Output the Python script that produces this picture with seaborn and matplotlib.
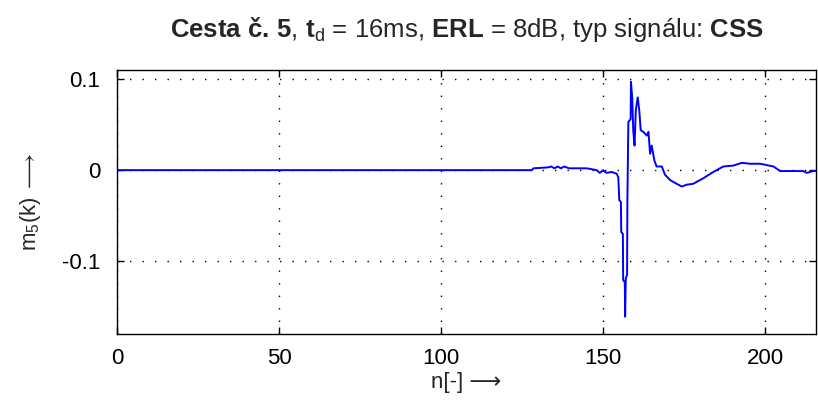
import matplotlib
matplotlib.use("Agg")
import matplotlib.pyplot as plt
import seaborn as sns
import pandas as pd

# ---- data ----
n_vals = [0, 128, 128.5, 133, 134, 135, 136, 137, 138, 139.5, 145, 148, 149, 150, 151,
          152.7, 154.2, 154.7, 155.0, 155.5, 155.6, 156.1, 156.2, 156.7, 156.8, 157.0,
          157.4, 157.5, 157.8, 158.5, 158.6, 159.0, 159.3, 159.7, 160.1, 160.7, 161.2,
          161.6, 162.4, 163.5, 164.0, 164.5, 165.0, 165.8, 166.5, 168.1, 169.1, 170.7,
          172.7, 174.3, 175.8, 177.8, 180.9, 184.0, 187.1, 190.2, 192.8, 195.4, 198.5,
          202.6, 204.6, 211.8, 212.8, 214.9, 216]
m5_vals = [0, 0, 0.002, 0.003, 0.004, 0.002, 0.004, 0.002, 0.004, 0.002, 0.002, 0.0,
           -0.003, 0.0, -0.003, -0.002, -0.004, -0.008, -0.033, -0.035, -0.068, -0.070,
           -0.121, -0.123, -0.161, -0.119, -0.115, -0.033, 0.053, 0.056, 0.097, 0.079,
           0.044, 0.027, 0.066, 0.080, 0.064, 0.044, 0.042, 0.038, 0.042, 0.018, 0.027,
           0.011, 0.004, 0.004, -0.005, -0.011, -0.015, -0.018, -0.016, -0.015, -0.009,
           -0.002, 0.004, 0.005, 0.008, 0.007, 0.007, 0.004, -0.001, -0.001, -0.003,
           -0.001, -0.001]
x_ticks = [0, 50, 100, 150, 200]
x_ticklabels = ["0", "50", "100", "150", "200"]
y_ticks = [-0.1, 0, 0.1]
y_ticklabels = ["-0.1", "0", "0.1"]

df = pd.DataFrame({"n": n_vals, "m5": m5_vals})

sns.set_theme(style="white")
plt.rcParams["font.family"] = ["Liberation Sans", "DejaVu Sans"]
plt.rcParams["mathtext.fontset"] = "custom"
plt.rcParams["mathtext.rm"] = "Liberation Sans"
plt.rcParams["mathtext.bf"] = "Liberation Sans:bold"
plt.rcParams["mathtext.it"] = "Liberation Sans"
plt.rcParams["mathtext.fallback"] = "stixsans"

fig = plt.figure(figsize=(8.18, 4.05), dpi=100)
ax = fig.add_axes([117 / 818, 1 - 334 / 405, (816 - 117) / 818, (334 - 70) / 405])

sns.lineplot(data=df, x="n", y="m5", ax=ax, color="#0000ff", linewidth=1.4,
             estimator=None, sort=False)

ax.set_xlim(0, 215.7)
ax.set_ylim(-0.18, 0.11)
ax.set_xticks(x_ticks)
ax.set_xticklabels(x_ticklabels)
ax.set_yticks(y_ticks)
ax.set_yticklabels(y_ticklabels)
ax.tick_params(direction="in", length=5, width=1, colors="black", labelsize=16,
               top=True, right=True, bottom=True, left=True)
ax.tick_params(axis="y", pad=12)
ax.tick_params(axis="x", pad=10)
for sp in ax.spines.values():
    sp.set_color("black")
    sp.set_linewidth(1.0)
ax.grid(True, color="black", linestyle=(0, (1, 8)), linewidth=1.0)

ax.set_xlabel("n[-] \u27f6", fontsize=16, labelpad=2)
ax.set_ylabel(r"m$_5$(k)$\;\longrightarrow$", fontsize=16, labelpad=14)
ax.set_title(r"$\mathbf{Cesta\ č.\,5}$, $\mathbf{t}_\mathrm{d}$ = 16ms, "
             r"$\mathbf{ERL}$ = 8dB, typ signálu: $\mathbf{CSS}$",
             fontsize=18.5, pad=24)

fig.savefig("out.png", dpi=100)
